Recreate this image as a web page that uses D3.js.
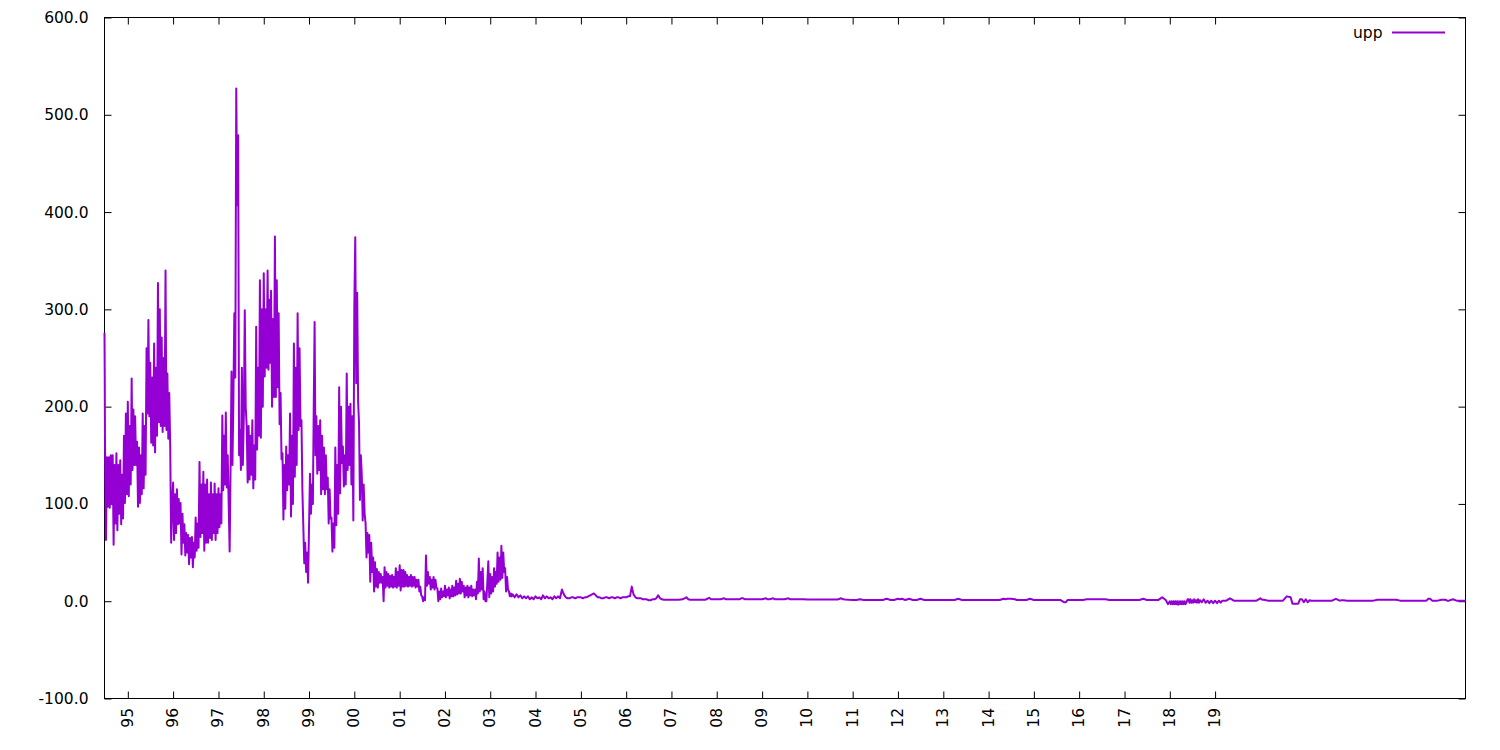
<!DOCTYPE html>
<html><head><meta charset="utf-8">
<script src="https://cdn.jsdelivr.net/npm/d3@7"></script>
<style>
body{margin:0;background:#fff}
svg{display:block}
text{font-family:"DejaVu Sans",sans-serif;font-size:15.5px;fill:#000}
</style>
</head><body><svg id="c" width="1500" height="750"></svg>
<script>
// ---- data ----
const seriesName = "upp";
const startDates = ["1994-06-27", "1994-06-29"];
const startValues = [276, 230];
const endDate = "2024-07-12";
const endValue = 0.6;

// values within each month, spread evenly through that month
const vals1994 = [[165,63,148,97],[148,96,150,100],[150,58,140,80],[152,73,140,90],[145,79,130,85],[170,101,193,110]]; // Jul-Dec
const vals1995 = [[205,108,180,120],[229,135,197,140],[190,140,164,97],[158,101,150,110],[193,116,180,130],[260,193,289,190],[245,163,230,160],[265,153,240,170],[327,184,300,180],[271,174,250,180],[340,176,234,167],[214,160,60,100]];
const vals1996 = [[122,63,110,70],[115,79,105,80],[101,48,90,60],[79,47,70,50],[68,38,65,45],[66,35,60,45],[86,52,80,55],[143,66,120,70],[133,52,120,60],[125,60,110,65],[122,63,110,70],[121,63,110,70]];
const vals1997 = [[116,76,110,80],[191,114,170,120],[194,117,150,100],[51,138,236,140],[204,296,230,527],[407,479,150,176],[135,240,140,190],[299,199,180,122],[180,125,170,130],[186,116,160,125],[282,156,240,170],[330,168,300,200]];
const vals1998 = [[337,231,300,240],[340,238,310,245],[319,200,290,210],[375,210,330,220],[296,182,214,146],[152,84,140,95],[159,114,150,120],[193,87,170,100],[265,128,240,140],[296,176,260,180],[186,114,77,39],[60,30,50,19]];
const vals1999 = [[76,131,90,120],[100,200,287,150],[190,131,180,135],[186,110,170,115],[158,110,150,115],[127,80,115,85],[86,51,80,55],[158,78,140,90],[220,111,200,142],[159,118,150,120],[234,135,200,140],[203,120,190,83]];
const vals2000 = [[300,374,224,317],[204,183,104,150],[131,83,120,90],[80,45,70,50],[68,20,60,30],[45,10,40,15],[33,14,30,19],[28,19,25,0],[35,14,30,16],[28,14,26,15],[27,14,25,15],[34,14,30,16]];
const vals2001 = [[37,11,32,15],[32,15,30,16],[27,15,25,16],[27,15,25,16],[25,14,22,15],[22,10,15,6],[5,0,4,1],[47,16,30,18],[25,12,22,14],[25,12,22,14],[13,0,10,2],[13,4,10,5]];
const vals2002 = [[16,4,12,6],[14,3,12,5],[16,5,14,6],[21,7,18,8],[23,8,20,10],[16,4,14,6],[16,4,14,6],[16,5,12,6],[12,2,20,8],[44,10,30,12],[34,2,10,0],[0,20,41,4]];
const vals2003 = [[28,8,25,10],[34,15,30,18],[50,20,45,22],[57,24,50,30],[34,10,25,12],[10,5,8,5],[7,4],[7,4],[6,3],[5,3],[5,2],[4,2]];
const vals2004 = [[5,3],[4,2],[6,3],[5,3],[4,2],[5,3],[5,3],[12,7],[4,3],[3,4],[4,3],[4,4]];
const vals2005 = [[4,3],[4,4],[5,6],[7,8],[6,4],[4,3],[3,4],[4,3],[4,4],[3,4],[4,3],[4,4]];
const vals2006 = [[4,5],[5,15],[7,4],[3,3],[3,2],[2,2],[1,1],[2,2],[3,6],[3,2],[1.5,1.5],[1.5,1.5]];
const vals2007 = [[1.5],[1.5],[1.5],[2],[4,2],[1.5],[1.5],[1.5],[1.5],[1.5],[3.5,2],[2]];
const vals2008 = [[2],[2],[3,2],[2],[2],[2],[2,3],[3,2],[2],[2],[2],[2]];
const vals2009 = [[2],[3,2],[2],[3,2],[2],[2],[2],[3,2],[2],[2],[2],[2]];
const vals2010 = [[1.8],[1.8],[1.8],[1.8],[1.8],[1.8],[1.8],[1.8],[1.8],[3,2],[1.8],[1.5]];
const vals2011 = [[1.3],[1.3],[2],[1.3],[1.3],[1.3],[1.3],[1.3],[1.3],[2.5,2],[1.3],[1.3]];
const vals2012 = [[2.5,2],[2.5],[1.3],[2.5],[1.3],[1.3],[2.5],[1.3],[1.3],[1.3],[1.3],[1.3]];
const vals2013 = [[1.3],[1.3],[1.3],[1.3],[2.5],[1.3],[1.3],[1.3],[1.3],[1.3],[1.3],[1.3]];
const vals2014 = [[1.3],[1.3],[1.3],[1.3],[2.5,2],[2.5],[2.5],[2,1.3],[1.3],[1.3],[1.3],[2.5]];
const vals2015 = [[1.3],[1.3],[1.3],[1.3],[1.3],[1.3],[1.3],[1.3],[-1,-1],[1.3],[1.3],[1.3]];
const vals2016 = [[1.3],[1.3],[2],[2],[2],[2],[2],[2],[1.3],[1.3],[1.3],[1.3]];
const vals2017 = [[1.3],[1.3],[1.3],[1.3],[1.3],[2.5],[1.3],[1.3],[1.3],[1.3],[4],[1,-3]];
const vals2018 = [[0,-3,0,-3],[0,-3,0,-3],[0,-3.5,0,-3],[0,-3,0,-3],[0,-3,-1,2],[2,-1.5,2,-1.5],[1,-1.5,2,-1],[1,-1.5,2,-1.5],[1,-1],[2,-1.5],[0.5,-2],[0.5,-2]];
const vals2019 = [[0.5,-2],[0.5,-1.5],[0.6],[0.6],[3],[0.6],[0.6],[0.6],[0.6],[0.6],[0.6],[0.6]];
const vals2020 = [[3,1.5],[1.5],[0.6],[0.6],[0.6],[0.6],[0.6],[5],[4,-2.5],[-2.5],[-2.5,2],[2,-1]];
const vals2021 = [[2,-1],[1,0.5],[0.6],[0.6],[0.6],[0.6],[0.6],[0.6],[2.5],[0.6,1],[1],[0.6]];
const vals2022 = [[0.6],[0.6],[0.6],[0.6],[0.6],[0.6],[0.6],[1.5],[1.5],[1.5],[1.5],[1.5]];
const vals2023 = [[1.5],[0.6],[0.6],[0.6],[0.6],[0.6],[0.6],[0.6],[0.6,2.5],[2.5,0.6],[0.6],[0.6]];
const vals2024 = [[1.5],[1.5,0.6],[0.6],[2],[0.6],[0.6]]; // Jan-Jun

const yearBlocks = [
  [1994, 6, vals1994],[1995,0,vals1995],[1996,0,vals1996],[1997,0,vals1997],[1998,0,vals1998],
  [1999,0,vals1999],[2000,0,vals2000],[2001,0,vals2001],[2002,0,vals2002],[2003,0,vals2003],
  [2004,0,vals2004],[2005,0,vals2005],[2006,0,vals2006],[2007,0,vals2007],[2008,0,vals2008],
  [2009,0,vals2009],[2010,0,vals2010],[2011,0,vals2011],[2012,0,vals2012],[2013,0,vals2013],
  [2014,0,vals2014],[2015,0,vals2015],[2016,0,vals2016],[2017,0,vals2017],[2018,0,vals2018],
  [2019,0,vals2019],[2020,0,vals2020],[2021,0,vals2021],[2022,0,vals2022],[2023,0,vals2023],
  [2024,0,vals2024]
];

const yTicks = [-100, 0, 100, 200, 300, 400, 500, 600];
const xTickYears = [1995,1996,1997,1998,1999,2000,2001,2002,2003,2004,2005,2006,2007,2008,2009,2010,2011,2012,2013,2014,2015,2016,2017,2018,2019];
const xTickLabels = ["95","96","97","98","99","00","01","02","03","04","05","06","07","08","09","10","11","12","13","14","15","16","17","18","19"];

// ---- build series ----
const parse = d3.utcParse("%Y-%m-%d");
const series = [];
startDates.forEach((d, i) => series.push({date: parse(d), value: startValues[i]}));
yearBlocks.forEach(([yr, m0, months]) => {
  months.forEach((vals, j) => {
    const a = new Date(Date.UTC(yr, m0 + j, 1));
    const b = new Date(Date.UTC(yr, m0 + j + 1, 1));
    vals.forEach((v, i) => series.push({date: new Date(+a + (b - a) * i / vals.length), value: v}));
  });
});
series.push({date: parse(endDate), value: endValue});

// ---- layout ----
const L = 104.5, R = 1465.5, T = 17.5, B = 698.5;
const svg = d3.select("#c");
const x = d3.scaleUtc().domain(d3.extent(series, d => d.date)).range([L, R]);
const y = d3.scaleLinear().domain([-100, 600]).range([B, T]);
const color = "#9400D3";
const tickDates = xTickYears.map(yr => new Date(Date.UTC(yr, 0, 1)));

// left axis
const gl = svg.append("g").attr("transform", `translate(${L},0)`)
  .call(d3.axisLeft(y).tickValues(yTicks).tickFormat(d => d.toFixed(1)).tickSizeInner(-7).tickSizeOuter(0).tickPadding(16));
// right axis
const gr = svg.append("g").attr("transform", `translate(${R},0)`)
  .call(d3.axisRight(y).tickValues(yTicks).tickFormat("").tickSizeInner(-7).tickSizeOuter(0));
// bottom axis
const gb = svg.append("g").attr("transform", `translate(0,${B})`)
  .call(d3.axisBottom(x).tickValues(tickDates).tickFormat((d, i) => xTickLabels[i]).tickSizeInner(-7).tickSizeOuter(0));
gb.selectAll("text").attr("transform", "rotate(-90)").attr("text-anchor", "end")
  .attr("x", -9.5).attr("y", 4.5).attr("dy", 0);
// top axis
const gt = svg.append("g").attr("transform", `translate(0,${T})`)
  .call(d3.axisTop(x).tickValues(tickDates).tickFormat("").tickSizeInner(-7).tickSizeOuter(0));

[gl, gr, gb, gt].forEach(g => {
  g.select(".domain").remove();
  g.selectAll("line").attr("stroke", "#000").attr("stroke-width", 1);
  g.selectAll("text").attr("font-family", "DejaVu Sans, sans-serif").attr("font-size", 15.5).attr("fill", "#000");
});

// frame
svg.append("rect").attr("x", L).attr("y", T).attr("width", R - L).attr("height", B - T)
  .attr("fill", "none").attr("stroke", "#000").attr("stroke-width", 1);

// data line
svg.append("path").datum(series)
  .attr("fill", "none").attr("stroke", color).attr("stroke-width", 2)
  .attr("stroke-linejoin", "round")
  .attr("d", d3.line().x(d => x(d.date)).y(d => y(d.value)));

// legend
svg.append("text").attr("x", 1382.5).attr("y", 32.5).attr("dy", "0.35em")
  .attr("text-anchor", "end").text(seriesName);
svg.append("line").attr("x1", 1392).attr("x2", 1445).attr("y1", 32.5).attr("y2", 32.5)
  .attr("stroke", color).attr("stroke-width", 2);
</script>
</body></html>
